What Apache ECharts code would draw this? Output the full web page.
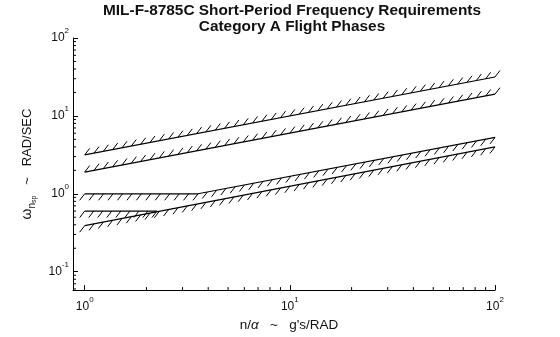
<!DOCTYPE html>
<html><head><meta charset="utf-8">
<script src="https://cdn.jsdelivr.net/npm/echarts@6/dist/echarts.min.js"></script>
<style>html,body{margin:0;padding:0;background:#fff}#c{width:560px;height:337px}</style>
</head><body><div id="c"></div>
<script>
const titleLines = ['MIL-F-8785C Short-Period Frequency Requirements', 'Category A Flight Phases'];
const xRange = [0.877, 100];
const yRange = [0.058, 100];
const xMinor = [2, 3, 4, 5, 6, 7, 8, 9, 20, 30, 40, 50, 60, 70, 80, 90];
const yMinor = [0.06, 0.07, 0.08, 0.09, 0.2, 0.3, 0.4, 0.5, 0.6, 0.7, 0.8, 0.9, 2, 3, 4, 5, 6, 7, 8, 9, 20, 30, 40, 50, 60, 70, 80, 90];
// boundary lines: [n/alpha, omega_n]
const level2Upper = [[1, 3.16], [100, 31.6]];
const level1Upper = [[1, 1.90], [100, 19.0]];
const level1Lower = [[1, 1.0], [3.57, 1.0], [100, 5.29]];
const level2Lower = [[1, 0.6], [2.25, 0.6]];
const level3Lower = [[1, 0.39], [100, 4.0]];

const FONT = 'Liberation Sans, Arial, sans-serif';
function pow10Label(v) {
  const e = Math.round(Math.log10(v));
  if (Math.abs(Math.log10(v) - e) > 1e-6) return '';
  return '{b|10}{s|' + e + '}';
}
const tickRich = {
  b: {fontSize: 12, fontFamily: FONT, color: '#111', lineHeight: 14},
  s: {fontSize: 8, fontFamily: FONT, color: '#111', lineHeight: 22, verticalAlign: 'top'}
};

function lineSeries(pts) {
  return {type: 'line', data: pts, symbol: 'none', silent: true, animation: false,
    lineStyle: {color: '#000', width: 1.2}, z: 4};
}
function hatchSeries(pts, side) {
  return {
    type: 'custom', coordinateSystem: 'cartesian2d', silent: true, clip: false, z: 3,
    animation: false, data: pts,
    renderItem(params, api) {
      if (params.dataIndex !== 0) return null;
      const px = pts.map(p => api.coord(p));
      const segs = []; let total = 0;
      for (let i = 0; i < px.length - 1; i++) {
        const dx = px[i + 1][0] - px[i][0], dy = px[i + 1][1] - px[i][1];
        const L = Math.hypot(dx, dy);
        segs.push({a: px[i], dx, dy, L, s: total});
        total += L;
      }
      const n = Math.max(1, Math.round(total / 9.5));
      const step = total / n;
      const children = [];
      const hx = side > 0 ? 5 : -5, hy = side > 0 ? -6.5 : 6.5;
      for (let k = 0; k <= n; k++) {
        const d = Math.min(k * step, total - 1e-6);
        let sg = segs[segs.length - 1];
        for (const s of segs) { if (d >= s.s && d <= s.s + s.L) { sg = s; break; } }
        const t = (d - sg.s) / sg.L;
        const x = sg.a[0] + sg.dx * t, y = sg.a[1] + sg.dy * t;
        children.push({type: 'line', shape: {x1: x, y1: y, x2: x + hx, y2: y + hy},
          style: {stroke: '#000', lineWidth: 1}});
      }
      return {type: 'group', children};
    }
  };
}
function minorTicks(vals, axis) {
  return {
    type: 'custom', coordinateSystem: 'cartesian2d', silent: true, clip: false, z: 5,
    animation: false,
    data: vals.map(v => axis === 'x' ? [v, yRange[0]] : [xRange[0], v]),
    renderItem(params, api) {
      const p = api.coord([api.value(0), api.value(1)]);
      const shape = axis === 'x' ? {x1: p[0], y1: p[1], x2: p[0], y2: p[1] - 3}
                                 : {x1: p[0], y1: p[1], x2: p[0] + 3, y2: p[1]};
      return {type: 'line', shape, style: {stroke: '#000', lineWidth: 1}};
    }
  };
}

const chart = echarts.init(document.getElementById('c'), null, {renderer: 'canvas'});
chart.setOption({
  animation: false,
  backgroundColor: '#fff',
  title: {
    text: titleLines.join('\n'), left: 292, top: 3, padding: 0, textAlign: 'center',
    textStyle: {fontSize: 15.4, fontWeight: 'bold', fontFamily: FONT, color: '#111', lineHeight: 16}
  },
  grid: {left: 73, right: 65, top: 38, bottom: 44, containLabel: false},
  xAxis: {
    type: 'log', logBase: 10, min: xRange[0], max: xRange[1],
    splitLine: {show: false}, minorTick: {show: false},
    axisLine: {show: true, lineStyle: {color: '#000', width: 1}},
    axisTick: {show: true, inside: true, length: 5, lineStyle: {color: '#000'}},
    axisLabel: {formatter: pow10Label, rich: tickRich, margin: 6, showMinLabel: true},
    name: '{t|n/}{a|α}{t|   ~   g\'s/RAD}', nameLocation: 'middle', nameGap: 27,
    nameTextStyle: {padding: [0, 0, 0, 10], rich: {
      t: {fontSize: 13.5, fontFamily: FONT, color: '#111'},
      a: {fontSize: 13.5, fontFamily: FONT, color: '#111', fontStyle: 'italic'}
    }}
  },
  yAxis: {
    type: 'log', logBase: 10, min: yRange[0], max: yRange[1],
    splitLine: {show: false}, minorTick: {show: false},
    axisLine: {show: true, lineStyle: {color: '#000', width: 1}},
    axisTick: {show: true, inside: true, length: 5, lineStyle: {color: '#000'}},
    axisLabel: {formatter: pow10Label, rich: tickRich, margin: 4},
    name: '{w|ω}{n|n}{p|sp}{t|   ~   RAD/SEC}', nameLocation: 'middle', nameGap: 32, nameRotate: 90,
    nameTextStyle: {rich: {
      w: {fontSize: 14, fontFamily: FONT, color: '#111', lineHeight: 20, verticalAlign: 'middle'},
      n: {fontSize: 10, fontFamily: FONT, color: '#111', lineHeight: 12, verticalAlign: 'bottom'},
      p: {fontSize: 7, fontFamily: FONT, color: '#111', lineHeight: 6, verticalAlign: 'bottom'},
      t: {fontSize: 13, fontFamily: FONT, color: '#111', lineHeight: 20, verticalAlign: 'middle'}
    }}
  },
  series: [
    lineSeries(level2Upper), hatchSeries(level2Upper, 1),
    lineSeries(level1Upper), hatchSeries(level1Upper, 1),
    lineSeries(level1Lower), hatchSeries(level1Lower, -1),
    lineSeries(level2Lower), hatchSeries(level2Lower, -1),
    lineSeries(level3Lower), hatchSeries(level3Lower, -1),
    minorTicks(xMinor, 'x'), minorTicks(yMinor, 'y')
  ]
});
</script></body></html>
